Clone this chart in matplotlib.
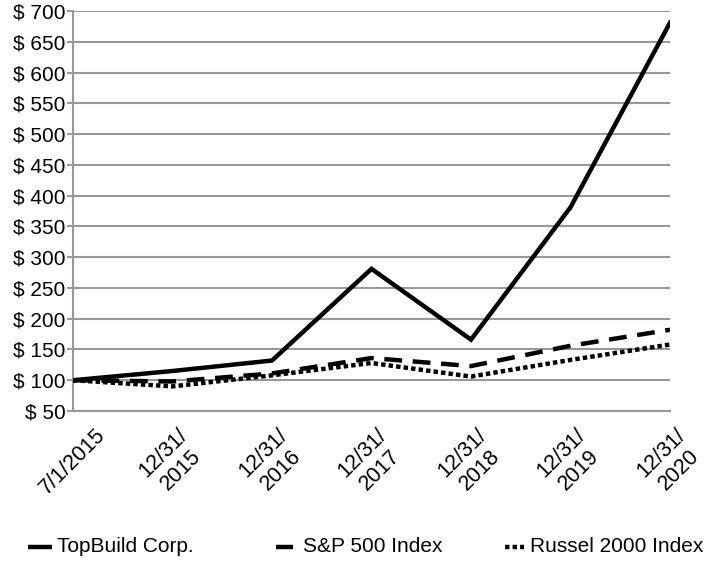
import matplotlib
matplotlib.use('Agg')
import matplotlib.pyplot as plt
from matplotlib.lines import Line2D

plt.rcParams['font.family'] = ['Liberation Sans', 'DejaVu Sans']

# Data
dates = ['7/1/2015', '12/31/\n2015', '12/31/\n2016', '12/31/\n2017',
         '12/31/\n2018', '12/31/\n2019', '12/31/\n2020']
topbuild = [100, 115, 132, 281, 166, 381, 681]
sp500 = [100, 98, 111, 136, 123, 156, 182]
russell = [100, 90, 108, 128, 106, 133, 158]
series_names = ['TopBuild Corp.', 'S&P 500 Index', 'Russel 2000 Index']
y_ticks = list(range(50, 701, 50))

grey = '#999999'
lw = 3.2

fig = plt.figure(figsize=(7.1, 5.65), dpi=100)
ax = fig.add_axes([73/710, 1-411/565, (670-73)/710, (411-11)/565])

x = list(range(len(dates)))
l1, = ax.plot(x, topbuild, color='black', lw=lw, solid_joinstyle='miter', zorder=3)
l2, = ax.plot(x, sp500, color='black', lw=lw, dashes=(4, 2.4), dash_capstyle='butt', zorder=3)
l3, = ax.plot(x, russell, color='black', lw=lw, dashes=(1, 0.7), dash_capstyle='butt', zorder=3)

ax.set_xlim(0, len(dates)-1)
ax.set_ylim(50, 700)
ax.set_yticks(y_ticks)
ax.set_yticklabels(['$ %d' % v for v in y_ticks], fontsize=15)
ax.set_xticks(x)
ax.set_xticklabels(dates, rotation=45, ha='center', fontsize=15.5)
ax.tick_params(axis='x', length=0, pad=10)
ax.tick_params(axis='y', length=4.5, width=1.5, color=grey, pad=1)
ax.grid(axis='y', color=grey, lw=1.5, zorder=1)
ax.set_axisbelow(True)
for s in ['top', 'right']:
    ax.spines[s].set_visible(False)
for s in ['left', 'bottom']:
    ax.spines[s].set_color(grey)
    ax.spines[s].set_linewidth(1.5)

# legend, laid out by hand
ly = 1 - 547/565
entries = [(l1, 28, 52, 57), (l2, 276, 293, 303), (l3, 505, 524, 530)]
for (line, x0, x1, xt), name in zip(entries, series_names):
    h = Line2D([x0/710, x1/710], [ly, ly], transform=fig.transFigure,
               color='black', lw=lw, solid_capstyle='butt', dash_capstyle='butt')
    if line is l3:
        h.set_dashes((1, 0.7))
    fig.add_artist(h)
    fig.text(xt/710, ly, name, fontsize=15, va='center', ha='left')

fig.savefig('out.png', dpi=100)
